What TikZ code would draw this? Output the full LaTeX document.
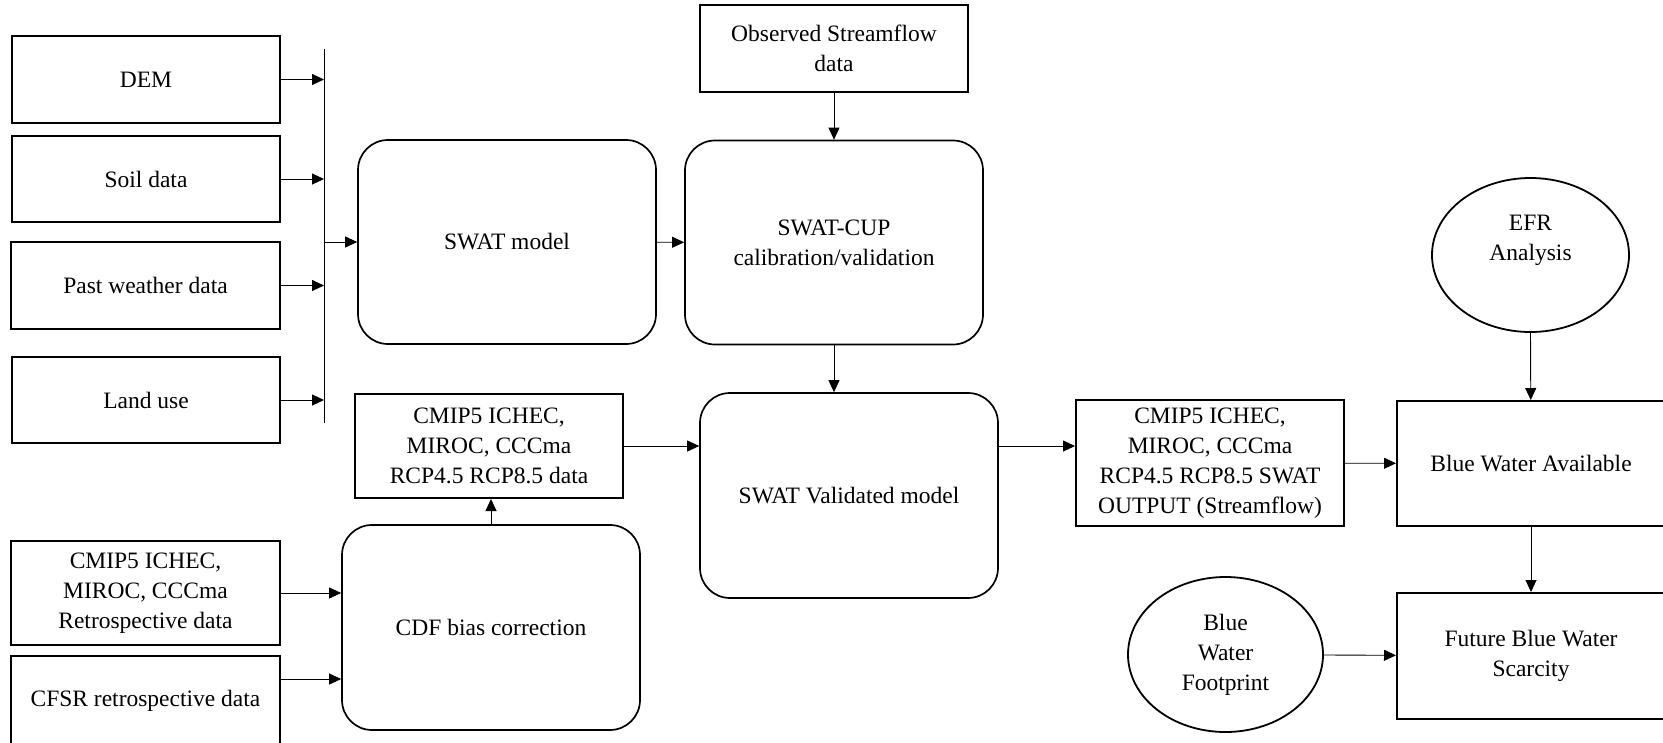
\documentclass[tikz,border=0pt]{standalone}
\usepackage{fontspec}
\setmainfont{Liberation Serif}
\usetikzlibrary{arrows.meta,shapes.geometric}

\begin{document}
\begin{tikzpicture}[x=1pt,y=-1pt,
                                    inbox/.style={draw,line width=2pt,align=center,inner sep=0pt,minimum width=268pt,font=\fontsize{23.5}{30}\selectfont},
                                    roundbox/.style={inbox,line width=1.7pt,rounded corners=30pt,minimum width=298pt,minimum height=204pt},
                                    oval/.style={inbox,ellipse,line width=1.8pt},
                                    link/.style={line width=0.9pt,-{Triangle[length=12pt,width=11pt]}}]
                                    \useasboundingbox (0,0) rectangle (1663,742);
                                    \coordinate (bustop) at (324,49);
                                    \coordinate (busbot) at (324,423);
                                    
                                    \node[inbox,minimum height=87pt] (dem) at (146,79.5) {DEM};
                                    \node[inbox,minimum height=86pt] (soil) at (146,179) {Soil data};
                                    \node[inbox,minimum width=269pt,minimum height=87pt] (past) at (145.5,285.5) {Past weather data};
                                    \node[inbox,minimum height=86pt] (land) at (146,400) {Land use};
                                    \node[inbox,minimum width=269pt,minimum height=104pt] (retro) at (145.5,593) {CMIP5 ICHEC,\\MIROC, CCCma\\Retrospective data};
                                    \node[inbox,minimum width=269pt,minimum height=89pt] (cfsr) at (145.5,700.5) {CFSR retrospective data};
                                    
                                    \node[roundbox] (swat) at (507,242) {SWAT model};
                                    \node[roundbox] (cup) at (834,242.5) {SWAT-CUP\\calibration/validation};
                                    \node[inbox,minimum height=87pt] (obs) at (834,48.5) {Observed Streamflow\\data};
                                    \node[inbox,minimum height=104pt] (rcp) at (489,446) {CMIP5 ICHEC,\\MIROC, CCCma\\RCP4.5 RCP8.5 data};
                                    \node[roundbox,minimum height=205pt] (cdf) at (491,627.5) {CDF bias correction};
                                    \node[roundbox,minimum height=205pt] (val) at (849,495.5) {SWAT Validated model};
                                    
                                    \node[inbox,minimum height=126pt] (out) at (1210,463) {CMIP5 ICHEC,\\MIROC, CCCma\\RCP4.5 RCP8.5 SWAT\\OUTPUT (Streamflow)};
                                    \node[inbox,minimum height=125pt] (bwa) at (1531,463.5) {Blue Water Available};
                                    \node[inbox,minimum height=126pt] (fbws) at (1531,656) {Future Blue Water\\Scarcity};
                                    \node[oval,minimum width=197pt,minimum height=154pt,text depth=34pt] (efr) at (1530.5,255) {EFR\\Analysis};
                                    \node[oval,minimum width=195pt,minimum height=155pt] (bwf) at (1225.5,654.5) {Blue\\Water\\Footprint};
                                    
                                    \draw[line width=0.9pt] (bustop) -- (busbot);
                                    \draw[link] (dem) -- (dem -| bustop);
                                    \draw[link] (soil) -- (soil -| bustop);
                                    \draw[link] (past) -- (past -| bustop);
                                    \draw[link] (land) -- (land -| bustop);
                                    \draw[link] (swat.west -| bustop) -- (swat);
                                    \draw[link] (swat) -- (cup);
                                    \draw[link] (obs) -- (cup);
                                    \draw[link] (cup.south) -- (cup.south |- val.north);
                                    \draw[link] (retro) -- (retro -| cdf.west);
                                    \draw[link] ([yshift=21.5pt]cfsr.east) -- ([yshift=21.5pt]cfsr.east -| cdf.west);
                                    \draw[link] (cdf.north) -- (cdf.north |- rcp.south);
                                    \draw[link] (rcp.east) -- (rcp.east -| val.west);
                                    \draw[link] (rcp.east -| val.east) -- (rcp.east -| out.west);
                                    \draw[link] (out) -- (bwa);
                                    \draw[link] (efr.south) -- (bwa);
                                    \draw[link] (bwa) -- (fbws);
                                    \draw[link] (bwf) -- (fbws);
                                    \end{tikzpicture}
\end{document}
